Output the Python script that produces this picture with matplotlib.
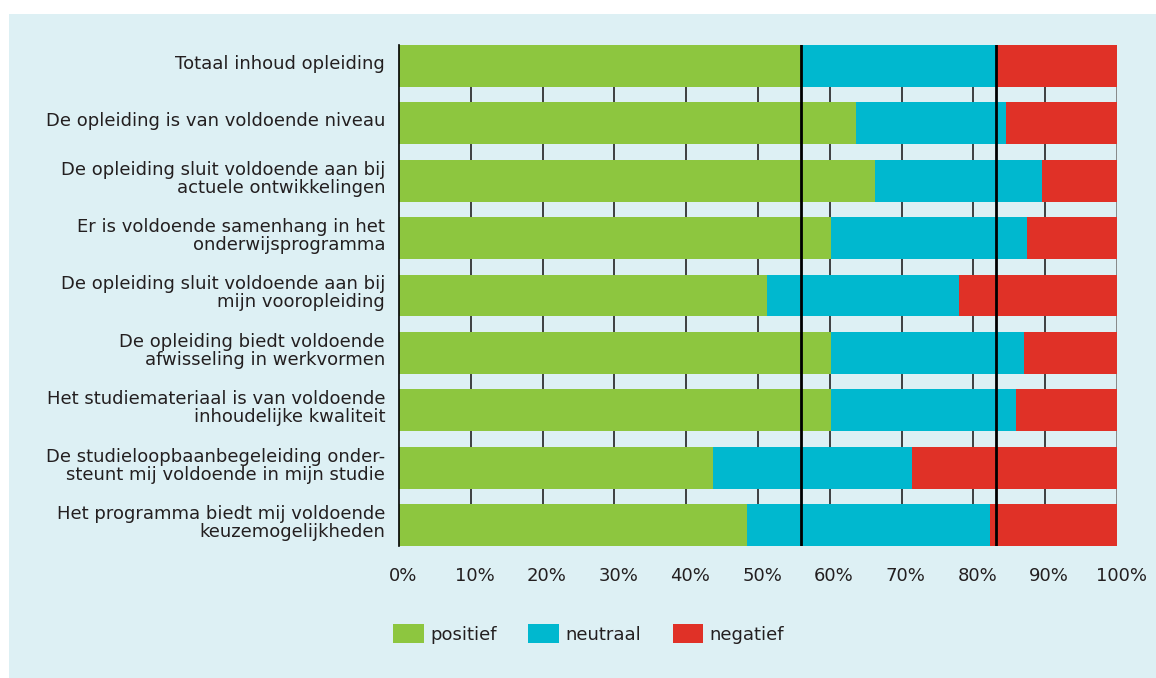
import matplotlib
matplotlib.use('Agg')
import matplotlib.pyplot as plt
from matplotlib.patches import Rectangle
from matplotlib.transforms import ScaledTranslation

# survey items, top to bottom
items = [
    'Totaal inhoud opleiding',
    'De opleiding is van voldoende niveau',
    'De opleiding sluit voldoende aan bij\nactuele ontwikkelingen',
    'Er is voldoende samenhang in het\nonderwijsprogramma',
    'De opleiding sluit voldoende aan bij\nmijn vooropleiding',
    'De opleiding biedt voldoende\nafwisseling in werkvormen',
    'Het studiemateriaal is van voldoende\ninhoudelijke kwaliteit',
    'De studieloopbaanbegeleiding onder-\nsteunt mij voldoende in mijn studie',
    'Het programma biedt mij voldoende\nkeuzemogelijkheden',
]
positief = [56.0, 63.6, 66.3, 60.1, 51.3, 60.1, 60.1, 43.8, 48.4]
neutraal = [27.2, 20.9, 23.2, 27.4, 26.7, 27.0, 25.8, 27.6, 33.9]
negatief = [100 - p - n for p, n in zip(positief, neutraal)]

# reference lines from the total row
ref_lines = [56.0, 83.2]

xticks = list(range(0, 101, 10))
xticklabels = ['%d%%' % t for t in xticks]

green = '#8dc63f'
cyan = '#00b8cf'
red = '#e03127'
panel = '#ddf0f4'
txt = '#231f20'

plt.rcParams['font.family'] = ['DejaVu Sans']

fig = plt.figure(figsize=(11.56, 6.78), dpi=100)
fig.patch.set_facecolor('white')
fig.patches.append(Rectangle((9 / 1156, 0), 1, 1 - 14 / 678, transform=fig.transFigure,
                             facecolor=panel, edgecolor='none', zorder=-10))

ax = fig.add_axes([399 / 1156, 1 - 546 / 678, 718 / 1156, 501 / 678])
ax.set_facecolor('none')

y = list(range(len(items)))
h = 0.73
ax.barh(y, positief, height=h, color=green, label='positief', zorder=2)
ax.barh(y, neutraal, left=positief, height=h, color=cyan, label='neutraal', zorder=2)
left3 = [p + n for p, n in zip(positief, neutraal)]
ax.barh(y, negatief, left=left3, height=h, color=red, label='negatief', zorder=2)

for t in xticks[1:]:
    ax.axvline(t, color='#222222' if t < 100 else '#777777', lw=1.2, zorder=1)
for r in ref_lines:
    ax.axvline(r, color='black', lw=2, zorder=3)

ax.set_xlim(0, 100)
ax.set_ylim(len(items) - 1 + h / 2, -h / 2)
ax.set_yticks(y)
ax.set_yticklabels(items, fontsize=13, color=txt, linespacing=1.0)
ax.set_xticks(xticks)
ax.set_xticklabels(xticklabels, fontsize=13, color=txt)
ax.tick_params(axis='y', length=0, pad=10)
ax.tick_params(axis='x', length=0, pad=15)
up = ScaledTranslation(0, 4 / 100, fig.dpi_scale_trans)
for lab in ax.get_yticklabels():
    lab.set_transform(lab.get_transform() + up)
right = ScaledTranslation(4 / 100, 0, fig.dpi_scale_trans)
for lab in ax.get_xticklabels():
    lab.set_transform(lab.get_transform() + right)
for s in ['top', 'right', 'bottom']:
    ax.spines[s].set_visible(False)
ax.spines['left'].set_color('black')
ax.spines['left'].set_linewidth(1.2)
ax.spines['left'].set_zorder(4)

leg = fig.legend(loc='center left', bbox_to_anchor=(0.334, 1 - 634 / 678), ncol=3,
                 frameon=False, fontsize=13, handlelength=1.7, handleheight=1.2,
                 handletextpad=0.35, columnspacing=1.75, borderaxespad=0)
for t in leg.get_texts():
    t.set_color(txt)

fig.savefig('out.png', dpi=100, facecolor=fig.get_facecolor())
